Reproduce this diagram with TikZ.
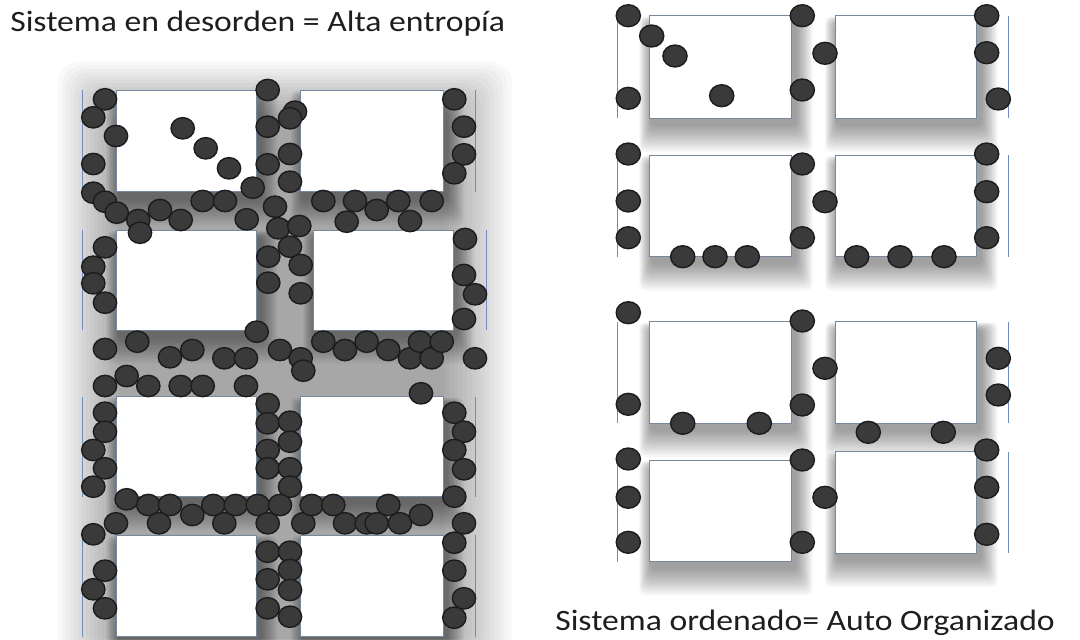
\documentclass[tikz,border=0pt]{standalone}
\usepackage{fontspec}
\setmainfont{Carlito}
\usepackage{xcolor}
\usepackage{tikz}
\definecolor{ballgray}{RGB}{58,58,58}
\definecolor{balledge}{RGB}{28,28,28}
\definecolor{cellline}{RGB}{120,135,160}
\definecolor{wallblue}{RGB}{110,140,190}
\definecolor{textgray}{RGB}{30,30,30}
\tikzset{
  cellbox/.style={draw=cellline,fill=white,line width=0.6pt},
  shadelayer/.style={fill=black,opacity=0.036,rounded corners=4pt},
  hazelayer/.style={fill=black,opacity=0.022,rounded corners=14pt},
  wall/.style={draw=wallblue,line width=0.7pt},
  ball/.style={fill=ballgray,draw=balledge,line width=1pt},
  caption/.style={font=\fontsize{21}{24}\selectfont,color=textgray,
    inner sep=0pt,xscale=1.14}
}
% soft drop shadow below a cell: x1, y1, x2, y2 (pixels, y down)
\newcommand{\cellshadow}[4]{%
  \foreach \k in {1,...,12}
    \fill[shadelayer] ({#1+2-\k},{#2+8-0.6*\k}) rectangle
      ({#3+4+1.4*\k},{#4+6+2.3*\k});}

\begin{document}
\begin{tikzpicture}[x=0.025cm,y=-0.025cm]
  \useasboundingbox (0,0) rectangle (1080,639);
  \fill[white] (0,0) rectangle (1080,639);

  % Grey haze behind the disordered panel
  \foreach \k in {1,...,16}
    \fill[hazelayer] ({122-4*\k},{118-3.5*\k}) rectangle
      ({440+4.5*\k},{660+2*\k});

  % Left panel: cells
  \foreach \xa/\xb/\ya/\yb in {116.7/256.7/90/191.7,300.7/443/90/191.7,
      116.7/256.7/230/330,313/453/230/330,
      116.7/256.7/396.7/496.7,300.7/443/396.7/496.7,
      116.7/256.7/535/636.7,300.7/443/535/636.7}
    \cellshadow{\xa}{\ya}{\xb}{\yb};
  \foreach \xa/\xb/\ya/\yb in {116.7/256.7/90/191.7,300.7/443/90/191.7,
      116.7/256.7/230/330,313/453/230/330,
      116.7/256.7/396.7/496.7,300.7/443/396.7/496.7,
      116.7/256.7/535/636.7,300.7/443/535/636.7}
    \draw[cellbox] (\xa,\ya) rectangle (\xb,\yb);
  % Left panel: walls
  \foreach \xa/\xb/\ya/\yb in {82.7/475/90/192,82.7/486.7/230/330,
      82.7/475/396.7/496.7,82.7/475/535/636.7}
    \draw[wall] (\xa,\ya) -- (\xa,\yb) (\xb,\ya) -- (\xb,\yb);

  % Right panel: cells
  \foreach \xa/\xb/\ya/\yb in {649.3/791.7/15.7/118.3,835/976.7/15.7/118.3,
      649.3/791.7/155/256.7,835/976.7/155/256.7,
      649.3/791.7/321.7/423.3,835/976.7/321.7/423.3,
      649.3/791.7/460/561.7,835/976.7/451.7/553.3}
    \cellshadow{\xa}{\ya}{\xb}{\yb};
  \foreach \xa/\xb/\ya/\yb in {649.3/791.7/15.7/118.3,835/976.7/15.7/118.3,
      649.3/791.7/155/256.7,835/976.7/155/256.7,
      649.3/791.7/321.7/423.3,835/976.7/321.7/423.3,
      649.3/791.7/460/561.7,835/976.7/451.7/553.3}
    \draw[cellbox] (\xa,\ya) rectangle (\xb,\yb);
  % Right panel: walls
  \foreach \ya/\yb in {15.7/118.3,155/256.7,321.7/423.3,460/561.7}
    \draw[wall] (617.3,\ya) -- (617.3,\yb);
  \foreach \ya/\yb in {15.7/118.3,155/256.7,321.7/423.3,451.7/553.3}
    \draw[wall] (1008.7,\ya) -- (1008.7,\yb);

  % Left panel: scattered balls
  \foreach \x/\y in {105/99.3,93.3/117.3,116/136,93.3/164,93.3/192.7,
      105/201.7,116.7/212.7,138.3/220,140/232.7,160/210,180.7/220,
      202.7/201,225/201,246.7/219.3,252.7/187.7,182.7/128.3,205.7/148.3,
      229/168.3,267.7/90,267.7/126.7,295/111.7,290/118.3,290/154,
      267.7/164.3,290/181.7,275/206.7,278.3/228.3,299.3/226,290/246.7,
      268.3/256.7,300.7/265,268.3/282.7,300.7/293.3,256.7/331.7,
      454.3/99.3,464/126.7,464/154.3,454.3/173.3,323.3/201,355/201,
      376.7/210,398.3/201,431.7/201,346.7/221.7,410/221,465/239,464/275,
      475/294.3,464/319,105/247.3,93.3/266.7,93.3/283.3,105/302.7}
    \draw[ball] (\x,\y) ellipse [x radius=8.3pt,y radius=7.6pt];
  \foreach \x/\y in {105/349,137.3/341.7,170/357.3,192.3/350,224.3/358.3,
      246/358.3,280/350,300.7/358.3,303.3/370.7,323.3/341.7,345/350,
      366.7/341.7,388.3/350,410/358.3,420/341.7,431.7/358.3,441.7/341.7,
      475/358.3,105/386,126.7/376,148.3/386,180.7/386,202.7/386,246/386,
      421/393.3}
    \draw[ball] (\x,\y) ellipse [x radius=8.3pt,y radius=7.6pt];
  \foreach \x/\y in {105/412.7,105/431.7,93.3/450,105/468.3,93.3/486.7,
      267.7/404,267.7/423.3,290/421.7,290/441.7,267.7/450,267.7/468.3,
      290/468.3,290/486.7,454.3/412.7,464/431.7,454.3/450,464/469.3,
      454.3/496.7,126.7/499.3,148.3/505,170/505,159/523.3,192.3/515,
      213.3/505,224.3/523.3,235.7/505,257.7/505,267.7/523.3,280/505,
      303.3/523.3,311.7/505,333.3/505,345/523.3,366.7/523.3,376.7/523.3,
      388.3/505,400/523.3,421/515,464/523.3,116/523.3,93.3/534.3,
      105/570.7,93.3/589.3,105/608.3,267.7/551.7,290/551.7,290/570,
      267.7/579.3,290/590,267.7/608.3,290/616.7,454.3/542.7,454.3/570.7,
      464/598.3,454.3/617.7}
    \draw[ball] (\x,\y) ellipse [x radius=8.3pt,y radius=7.6pt];

  % Right panel: ordered balls
  \foreach \x/\y in {628.3/15.7,651.7/36,675/56,628.3/98.3,721.7/95.7,
      802.3/15.7,802.3/90,825/53.3,986.7/15.7,986.7/52.7,998.3/99,
      628.3/154,628.3/201,628.3/237.7,682.7/256.7,715/256.7,747.3/256.7,
      802.3/164,802.3/237.7,825/201.7,856.7/256.7,900/256.7,944/256.7,
      986.7/154,986.7/191.7,986.7/237.7}
    \draw[ball] (\x,\y) ellipse [x radius=8.6pt,y radius=7.8pt];
  \foreach \x/\y in {628.3/312.7,628.3/404.3,682.7/423.3,759.3/423.3,
      802.3/321,802.3/405,825/368.3,868.3/432.3,943.3/432.3,998.3/358.3,
      998.3/395,628.3/459,628.3/497.3,628.3/542.3,802.3/460,802.3/542.3,
      825/497.3,986.7/450,986.7/487.3,986.7/534.3}
    \draw[ball] (\x,\y) ellipse [x radius=8.6pt,y radius=7.8pt];

  % Captions
  \node[caption,anchor=base west] (disorder) at (10,31.7)
    {Sistema en desorden = Alta entropía};
  \node[caption,anchor=base west] (order) at (555,630)
    {Sistema ordenado= Auto Organizado};
\end{tikzpicture}
\end{document}
